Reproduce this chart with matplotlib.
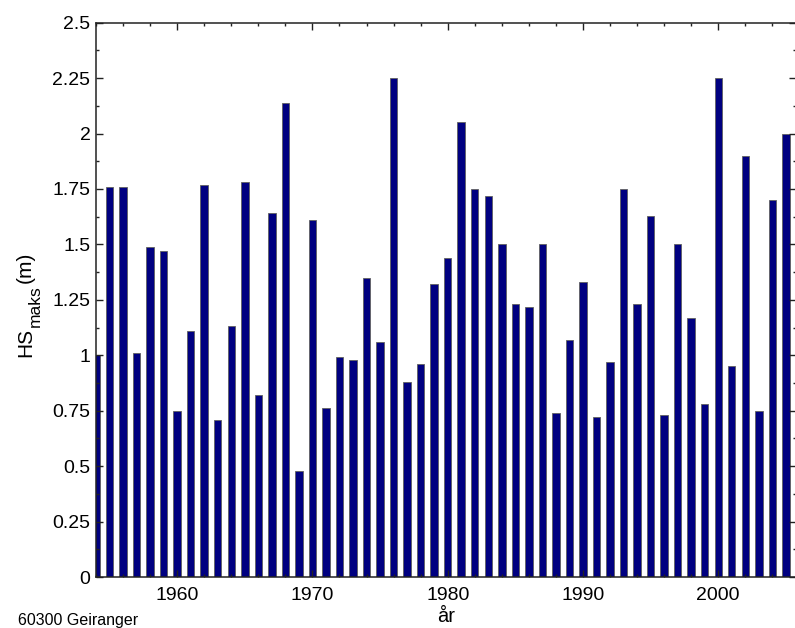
import matplotlib
matplotlib.use("Agg")
import matplotlib.pyplot as plt
from matplotlib.ticker import MultipleLocator

plt.rcParams['font.family'] = ['Liberation Sans', 'DejaVu Sans']

years = list(range(1954, 2006))
hs_maks = [1.00, 1.76, 1.76, 1.01, 1.49, 1.47, 0.75, 1.11, 1.77, 0.71,
           1.13, 1.78, 0.82, 1.64, 2.14, 0.48, 1.61, 0.76, 0.99, 0.98,
           1.35, 1.06, 2.25, 0.88, 0.96, 1.32, 1.44, 2.05, 1.75, 1.72,
           1.50, 1.23, 1.22, 1.50, 0.74, 1.07, 1.33, 0.72, 0.97, 1.75,
           1.23, 1.63, 0.73, 1.50, 1.17, 0.78, 2.25, 0.95, 1.90, 0.75,
           1.70, 2.00]
ytick_vals = [0, 0.25, 0.5, 0.75, 1, 1.25, 1.5, 1.75, 2, 2.25, 2.5]
ytick_labels = ["0", "0.25", "0.5", "0.75", "1", "1.25", "1.5", "1.75", "2", "2.25", "2.5"]
xtick_vals = [1960, 1970, 1980, 1990, 2000]

W, H = 795, 628
fig = plt.figure(figsize=(W/100, H/100), dpi=100)
ax = fig.add_axes([96/W, (H-577)/H, (796-96)/W, (577-22.7)/H])

ax.bar(years, hs_maks, width=0.55, color='#000080', edgecolor='#606060', linewidth=0.6)

ax.set_xlim(1954, 2005.75)
ax.set_ylim(0, 2.5)
ax.set_yticks(ytick_vals)
ax.set_yticklabels(ytick_labels)
ax.yaxis.set_minor_locator(MultipleLocator(0.125))
ax.set_xticks(xtick_vals)
ax.xaxis.set_minor_locator(MultipleLocator(2))

ax.tick_params(axis='both', which='both', direction='in', top=True, right=True,
               color='#222222', labelsize=14)
ax.tick_params(axis='both', which='major', length=5, width=1)
ax.tick_params(axis='both', which='minor', length=2.5, width=1)
ax.tick_params(axis='x', which='major', pad=7)
ax.tick_params(axis='y', which='major', pad=4)

for s in ax.spines.values():
    s.set_color('#222222')
    s.set_linewidth(1.1)

# y label built from pieces: "HS" + subscript "maks" + " (m)"
lab_kw = dict(rotation=90, rotation_mode='anchor', ha='left', va='baseline')
fig.text(31/W, 1 - 357/H, 'HS', fontsize=15, **lab_kw)
fig.text(40/W, 1 - 327/H, 'maks', fontsize=12.5, **lab_kw)
fig.text(31/W, 1 - 283/H, '(m)', fontsize=15, **lab_kw)

ax.set_xlabel('år', fontsize=14.5, labelpad=2)

fig.text(18/W, 1 - 625/H, '60300 Geiranger', fontsize=11.5, ha='left', va='baseline')

fig.savefig('out.png', dpi=100)
